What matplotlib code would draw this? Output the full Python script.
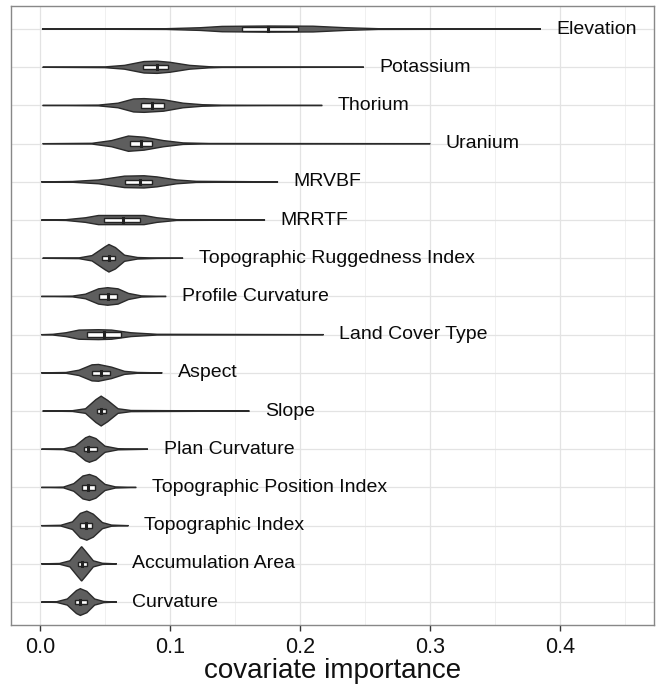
import numpy as np
import matplotlib
matplotlib.use("Agg")
from matplotlib import pyplot as plt

plt.rcParams["font.family"] = ["Liberation Sans", "DejaVu Sans"]

# covariates, top to bottom
names = ["Elevation", "Potassium", "Thorium", "Uranium", "MRVBF", "MRRTF",
         "Topographic Ruggedness Index", "Profile Curvature", "Land Cover Type",
         "Aspect", "Slope", "Plan Curvature", "Topographic Position Index",
         "Topographic Index", "Accumulation Area", "Curvature"]

# violin outline knots: x (importance) and half-width
prof_x = [
    [0.0015, 0.097, 0.123, 0.14, 0.175, 0.21, 0.235, 0.26, 0.385],
    [0.002, 0.05, 0.065, 0.08, 0.09, 0.10, 0.115, 0.13, 0.14, 0.249],
    [0.002, 0.045, 0.06, 0.072, 0.08, 0.095, 0.11, 0.125, 0.14, 0.217],
    [0.002, 0.04, 0.055, 0.068, 0.08, 0.095, 0.11, 0.13, 0.30],
    [0.001, 0.025, 0.045, 0.065, 0.08, 0.09, 0.105, 0.12, 0.183],
    [0.001, 0.02, 0.035, 0.045, 0.065, 0.08, 0.09, 0.105, 0.173],
    [0.002, 0.03, 0.04, 0.05, 0.053, 0.058, 0.065, 0.075, 0.09, 0.110],
    [0.001, 0.025, 0.035, 0.045, 0.052, 0.06, 0.068, 0.078, 0.097],
    [0.001, 0.01, 0.02, 0.03, 0.045, 0.055, 0.07, 0.09, 0.218],
    [0.001, 0.02, 0.03, 0.04, 0.045, 0.055, 0.065, 0.075, 0.094],
    [0.002, 0.025, 0.035, 0.043, 0.047, 0.052, 0.06, 0.07, 0.161],
    [0.001, 0.018, 0.027, 0.035, 0.038, 0.043, 0.05, 0.06, 0.083],
    [0.001, 0.018, 0.026, 0.033, 0.038, 0.043, 0.05, 0.058, 0.074],
    [0.001, 0.016, 0.025, 0.031, 0.036, 0.041, 0.048, 0.055, 0.068],
    [0.001, 0.015, 0.023, 0.029, 0.032, 0.035, 0.041, 0.048, 0.059],
    [0.001, 0.013, 0.021, 0.028, 0.031, 0.036, 0.042, 0.049, 0.059],
]
prof_w = [
    [0, 0.01, 0.035, 0.07, 0.08, 0.075, 0.035, 0.01, 0],
    [0, 0.01, 0.05, 0.15, 0.16, 0.13, 0.05, 0.015, 0.005, 0],
    [0, 0.01, 0.06, 0.17, 0.18, 0.15, 0.06, 0.02, 0.008, 0],
    [0, 0.01, 0.08, 0.2, 0.17, 0.08, 0.02, 0.005, 0],
    [0, 0.01, 0.05, 0.15, 0.16, 0.13, 0.05, 0.015, 0],
    [0, 0.01, 0.06, 0.12, 0.12, 0.12, 0.06, 0.01, 0],
    [0, 0.01, 0.07, 0.3, 0.36, 0.28, 0.08, 0.02, 0.005, 0],
    [0, 0.01, 0.06, 0.2, 0.23, 0.2, 0.08, 0.015, 0],
    [0, 0.01, 0.05, 0.12, 0.13, 0.12, 0.05, 0.01, 0],
    [0, 0.01, 0.07, 0.21, 0.22, 0.15, 0.04, 0.01, 0],
    [0, 0.01, 0.06, 0.3, 0.39, 0.28, 0.06, 0.015, 0],
    [0, 0.01, 0.08, 0.3, 0.34, 0.28, 0.08, 0.015, 0],
    [0, 0.01, 0.1, 0.3, 0.34, 0.28, 0.08, 0.015, 0],
    [0, 0.01, 0.1, 0.32, 0.38, 0.3, 0.08, 0.015, 0],
    [0, 0.01, 0.08, 0.33, 0.45, 0.33, 0.08, 0.015, 0],
    [0, 0.01, 0.08, 0.3, 0.35, 0.28, 0.08, 0.015, 0],
]

# box plot quartiles
q1 = [0.155, 0.079, 0.078, 0.069, 0.065, 0.049, 0.048, 0.045, 0.036, 0.040,
      0.044, 0.034, 0.032, 0.031, 0.029, 0.027]
med = [0.175, 0.090, 0.086, 0.078, 0.077, 0.064, 0.053, 0.052, 0.049, 0.047,
       0.047, 0.037, 0.037, 0.035, 0.032, 0.031]
q3 = [0.198, 0.0985, 0.095, 0.086, 0.086, 0.077, 0.058, 0.059, 0.062, 0.054,
      0.051, 0.044, 0.042, 0.040, 0.036, 0.036]

fig = plt.figure(figsize=(6.59, 6.84), dpi=100)
ax = fig.add_axes([0.0167, 0.0863, 0.9757, 0.9047])

n = len(names)
for i, nm in enumerate(names):
    y = n - i
    xs = np.array(prof_x[i])
    ws = np.array(prof_w[i])
    px = np.concatenate([xs, xs[::-1]])
    py = np.concatenate([y + ws, (y - ws)[::-1]])
    ax.fill(px, py, facecolor="#5e5e5e", edgecolor="#2a2a2a", lw=1.0, zorder=3)
    ax.add_patch(plt.Rectangle((q1[i], y - 0.058), q3[i] - q1[i], 0.116,
                               facecolor="white", edgecolor="#222222", lw=1.0, zorder=4))
    ax.plot([med[i], med[i]], [y - 0.058, y + 0.058], color="#222222", lw=2.2, zorder=5)
    ax.text(xs[-1] + 0.012, y, nm, ha="left", va="center", fontsize=14,
            color="#0a0a0a", zorder=6)

ax.set_xlim(-0.0223, 0.472)
ax.set_ylim(0.4, n + 0.6)
ax.set_xticks([0.0, 0.1, 0.2, 0.3, 0.4])
ax.set_xticklabels(["0.0", "0.1", "0.2", "0.3", "0.4"])
ax.set_xticks([0.05, 0.15, 0.25, 0.35, 0.45], minor=True)
ax.set_yticks(range(1, n + 1))
ax.tick_params(axis="y", which="both", left=False, labelleft=False)
ax.tick_params(axis="x", which="major", length=4, width=1, color="#333333",
               labelsize=15.5, labelcolor="#111111", pad=5)
ax.tick_params(axis="x", which="minor", length=0)
ax.grid(True, which="major", color="#e3e3e3", lw=0.9, zorder=0)
ax.grid(True, which="minor", axis="x", color="#eeeeee", lw=0.6, zorder=0)
ax.set_axisbelow(True)
for sp in ax.spines.values():
    sp.set_color("#888888")
    sp.set_linewidth(1.0)
ax.set_xlabel("covariate importance", fontsize=20, color="#111111", labelpad=0)

fig.savefig("out.png", dpi=100)
